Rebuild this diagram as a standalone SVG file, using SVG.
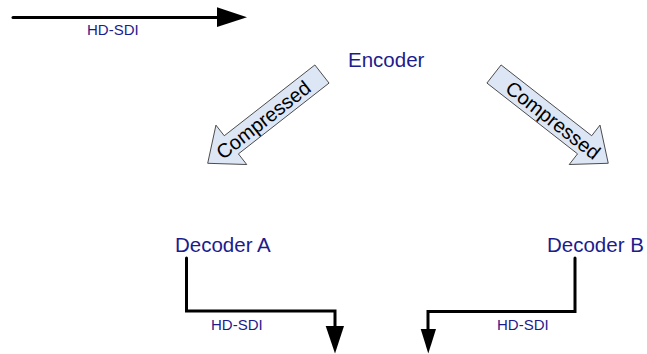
<svg xmlns="http://www.w3.org/2000/svg" width="647" height="354" viewBox="0 0 647 354">
<style>
.lbl{font-family:"Liberation Sans",Arial,sans-serif;fill:#1c1c8c}
.big{font-size:20.5px}
.small{font-size:15px}
.conn{fill:none;stroke:#000;stroke-width:3;stroke-linecap:round;stroke-linejoin:miter}
.head{fill:#000;stroke:none}
.block{fill:#dde6f5;stroke:#333;stroke-width:0.8}
.ctext{font-family:"Liberation Sans",Arial,sans-serif;font-size:20px;fill:#000}
</style>
<rect width="647" height="354" fill="#fff"/>
<g id="connectors">
  <path class="conn" d="M13,17.5 H218"/>
  <polygon class="head" points="217,7.3 247,17.3 217,27"/>
  <text class="lbl small" x="87" y="35">HD-SDI</text>
  <path class="conn" d="M186.5,258 V311 H335 V327" stroke-linecap="butt"/>
  <polygon class="head" points="325.7,326 344,326 335,353.5"/>
  <text class="lbl small" x="211" y="330">HD-SDI</text>
  <path class="conn" d="M575,258 V311.5 H428 V329" stroke-linecap="butt"/>
  <polygon class="head" points="420.7,329 436,329 428.3,353.5"/>
  <text class="lbl small" x="497" y="330">HD-SDI</text>
</g>
<g id="encoder">
  <text class="lbl big" x="348" y="67">Encoder</text>
</g>
<g id="decoderA">
  <text class="lbl big" x="175" y="252">Decoder A</text>
</g>
<g id="decoderB">
  <text class="lbl big" x="547" y="252">Decoder B</text>
</g>
<g id="compressedA" transform="translate(207.7,163.3) rotate(-38)">
  <polygon class="block" points="0,0 30,-25 30,-11.5 145,-11.5 145,11.5 30,11.5 30,25"/>
  <text class="ctext" x="70.5" y="7" text-anchor="middle">Compressed</text>
</g>
<g id="compressedB" transform="translate(494,74) rotate(38)">
  <polygon class="block" points="0,-11.5 115,-11.5 115,-25 145,0 115,25 115,11.5 0,11.5"/>
  <text class="ctext" x="75" y="7" text-anchor="middle">Compressed</text>
</g>
</svg>
